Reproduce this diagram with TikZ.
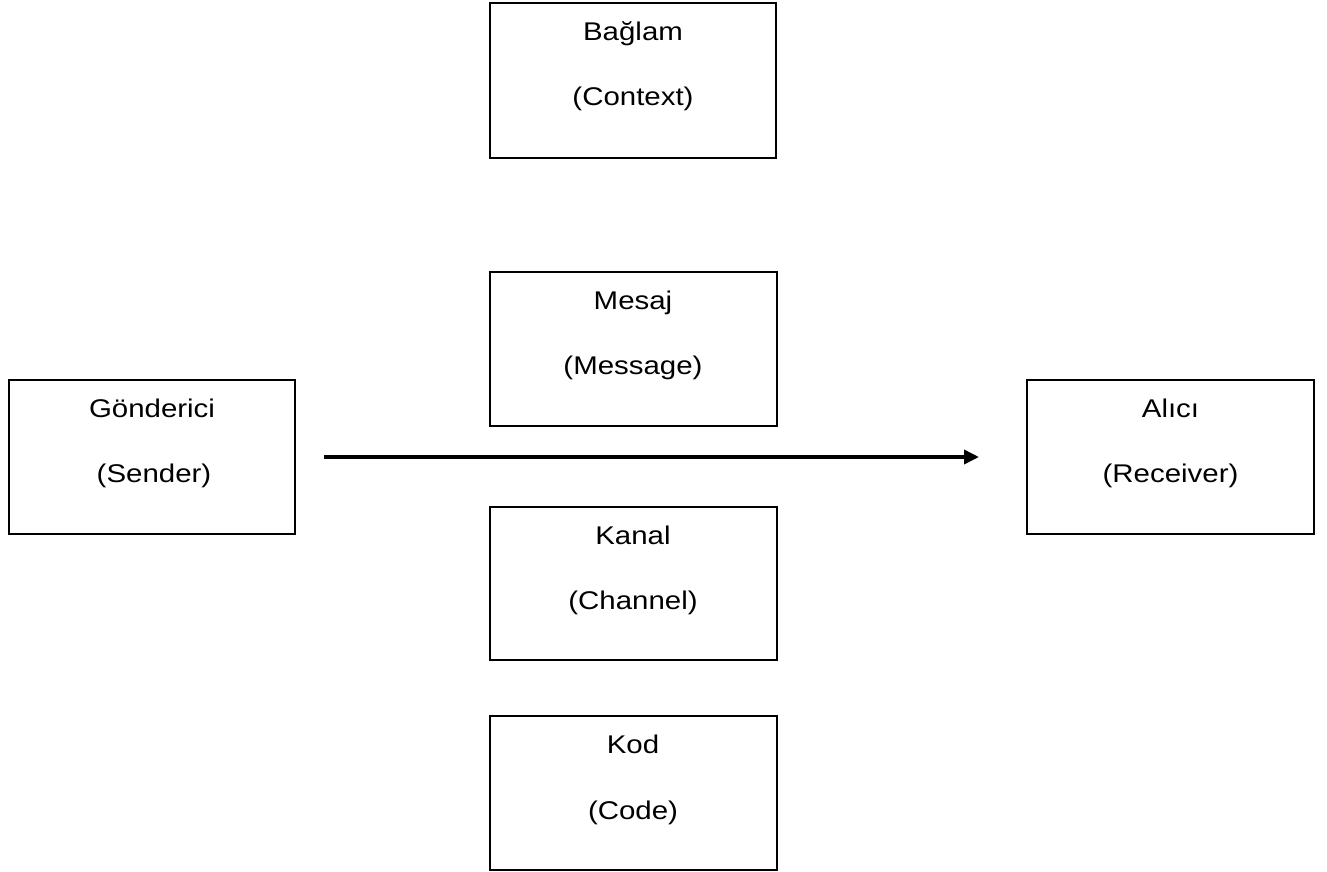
\documentclass[tikz,border=0pt]{standalone}
\usepackage{fontspec}
\setmainfont{Liberation Sans}[FakeStretch=1.15]
\usetikzlibrary{arrows.meta}
\begin{document}
\begin{tikzpicture}[x=1pt,y=-1pt,
  boxnode/.style={draw=black, line width=2pt, minimum width=287pt, minimum height=154pt, inner sep=0pt},
  txt/.style={font=\fontsize{25.6}{30}\selectfont, inner sep=0pt, anchor=base},
  flow/.style={line width=3.5pt, -{Triangle[length=15pt,width=14pt]}}]
\useasboundingbox (0,0) rectangle (1327,872);
% boxes
\node[boxnode, minimum width=286pt, minimum height=155pt] (ctx) at (633,80.5) {};
\node[boxnode] (msg) at (633,349) {};
\node[boxnode, minimum width=286pt] (snd) at (152,457) {};
\node[boxnode] (rcv) at (1170.5,456.5) {};
\node[boxnode, minimum height=153pt] (chn) at (633,583.5) {};
\node[boxnode] (cod) at (633,793) {};
% texts
\node[txt] (ctx1) at ([yshift=-39pt]ctx.north) {Bağlam};
\node[txt] (ctx2) at ([yshift=-104pt]ctx.north) {(Context)};
\node[txt] (msg1) at ([yshift=-38pt]msg.north) {Mesaj};
\node[txt] (msg2) at ([yshift=-103pt]msg.north) {(Message)};
\node[txt] (snd1) at ([yshift=-38pt]snd.north) {Gönderici};
\node[txt] (snd2) at ([xshift=2pt,yshift=-103pt]snd.north) {(Sender)};
\node[txt] (rcv1) at ([yshift=-39pt]rcv.north) {Alıcı};
\node[txt] (rcv2) at ([yshift=-104pt]rcv.north) {(Receiver)};
\node[txt] (chn1) at ([yshift=-38pt]chn.north) {Kanal};
\node[txt] (chn2) at ([yshift=-103pt]chn.north) {(Channel)};
\node[txt] (cod1) at ([yshift=-38pt]cod.north) {Kod};
\node[txt] (cod2) at ([yshift=-104pt]cod.north) {(Code)};
% arrow
\draw[flow, shorten <=28pt, shorten >=47pt] (snd.east) -- (rcv.west |- snd.east);
\end{tikzpicture}
\end{document}
